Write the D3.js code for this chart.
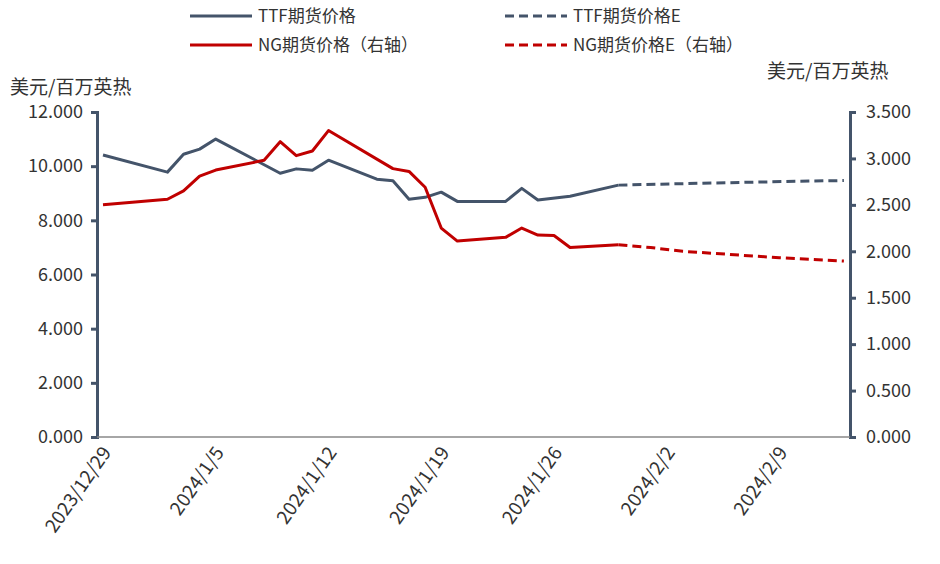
<!DOCTYPE html>
<html><head><meta charset="utf-8">
<script src="https://cdn.jsdelivr.net/npm/d3@7"></script>
<style>body{margin:0;background:#fff}text{font-family:"Noto Sans CJK SC","DejaVu Sans",sans-serif}</style>
</head><body><svg id="c" width="940" height="564"></svg>
<script>
const ttfDates = ["2023-12-29","2024-01-02","2024-01-03","2024-01-04","2024-01-05","2024-01-09","2024-01-10","2024-01-11","2024-01-12","2024-01-15","2024-01-16","2024-01-17","2024-01-18","2024-01-19","2024-01-20","2024-01-23","2024-01-24","2024-01-25","2024-01-27","2024-01-30"];
const ttfValues = [10.41,9.78,10.44,10.63,11.0,9.74,9.9,9.85,10.22,9.52,9.46,8.78,8.85,9.04,8.70,8.70,9.18,8.75,8.89,9.30];
const ttfEDates = ["2024-01-30","2024-02-05","2024-02-10","2024-02-13"];
const ttfEValues = [9.30,9.38,9.44,9.47];
const ngDates = ["2023-12-29","2024-01-02","2024-01-03","2024-01-04","2024-01-05","2024-01-08","2024-01-09","2024-01-10","2024-01-11","2024-01-12","2024-01-16","2024-01-17","2024-01-18","2024-01-19","2024-01-20","2024-01-23","2024-01-24","2024-01-25","2024-01-26","2024-01-27","2024-01-30"];
const ngValues = [2.50,2.56,2.65,2.81,2.875,2.98,3.18,3.03,3.08,3.30,2.89,2.86,2.69,2.25,2.11,2.15,2.25,2.175,2.17,2.04,2.07];
const ngEDates = ["2024-01-30","2024-02-01","2024-02-03","2024-02-09","2024-02-13"];
const ngEValues = [2.07,2.04,2.0,1.93,1.895];
const tickDates = ["2023-12-29","2024-01-05","2024-01-12","2024-01-19","2024-01-26","2024-02-02","2024-02-09"];
const leftTicks = [0,2,4,6,8,10,12];
const rightTicks = [0,0.5,1,1.5,2,2.5,3,3.5];

const parse = d3.timeParse("%Y-%m-%d");
const svg = d3.select("#c");
const L = 97, R = 850, T = 112, B = 437;
const axisColor = "#44546A", ttfColor = "#44546A", ngColor = "#C00000";

const x = d3.scaleTime().domain([parse("2023-12-29"), parse("2024-02-14")]).range([103, 860]);
const yL = d3.scaleLinear().domain([0, 12]).range([B, T]);
const yR = d3.scaleLinear().domain([0, 3.5]).range([B, T]);

const fmt = d3.format(".3f");
const gl = svg.append("g").attr("transform", `translate(${L},0)`)
  .call(d3.axisLeft(yL).tickValues(leftTicks).tickFormat(fmt).tickSize(6).tickPadding(8));
const gr = svg.append("g").attr("transform", `translate(${R},0)`)
  .call(d3.axisRight(yR).tickValues(rightTicks).tickFormat(fmt).tickSize(6).tickPadding(10));
[gl, gr].forEach(g => {
  g.select(".domain").attr("stroke", axisColor).attr("stroke-width", 3);
  g.selectAll(".tick line").attr("stroke", axisColor).attr("stroke-width", 3);
  g.selectAll(".tick text").attr("font-size", 18).attr("fill", "#333");
});
svg.append("line").attr("x1", L).attr("x2", R).attr("y1", B).attr("y2", B)
  .attr("stroke", "#888").attr("stroke-width", 1.5);

const gx = svg.append("g").attr("transform", `translate(0,${B})`)
  .call(d3.axisBottom(x).tickValues(tickDates.map(parse)).tickSize(0)
    .tickFormat(d => `${d.getFullYear()}/${d.getMonth()+1}/${d.getDate()}`));
gx.select(".domain").remove();
gx.selectAll(".tick text").attr("font-size", 19).attr("fill", "#333")
  .attr("text-anchor", "end").attr("dx", 0).attr("dy", 0)
  .attr("transform", "translate(6,14) rotate(-55)");

function drawLine(dates, vals, y, color, dash) {
  const pts = dates.map((d, i) => [x(parse(d)), y(vals[i])]);
  svg.append("path").attr("d", d3.line()(pts)).attr("fill", "none")
    .attr("stroke", color).attr("stroke-width", 3)
    .attr("stroke-dasharray", dash ? "9,5" : null).attr("stroke-linejoin", "round");
}
drawLine(ttfDates, ttfValues, yL, ttfColor, false);
drawLine(ttfEDates, ttfEValues, yL, ttfColor, true);
drawLine(ngDates, ngValues, yR, ngColor, false);
drawLine(ngEDates, ngEValues, yR, ngColor, true);

const legend = [
  {t: "TTF期货价格", c: ttfColor, d: false, x: 190, y: 16},
  {t: "TTF期货价格E", c: ttfColor, d: true, x: 505, y: 16},
  {t: "NG期货价格（右轴）", c: ngColor, d: false, x: 190, y: 45},
  {t: "NG期货价格E（右轴）", c: ngColor, d: true, x: 505, y: 45}
];
legend.forEach(l => {
  svg.append("line").attr("x1", l.x).attr("x2", l.x + 62).attr("y1", l.y).attr("y2", l.y)
    .attr("stroke", l.c).attr("stroke-width", 3).attr("stroke-dasharray", l.d ? "9,5" : null);
  svg.append("text").attr("x", l.x + 68).attr("y", l.y + 6).attr("font-size", 17).attr("fill", "#333").text(l.t);
});

svg.append("text").attr("x", 10).attr("y", 94).attr("font-size", 19).attr("fill", "#333").text("美元/百万英热");
svg.append("text").attr("x", 767).attr("y", 78).attr("font-size", 19).attr("fill", "#333").text("美元/百万英热");
</script></body></html>
